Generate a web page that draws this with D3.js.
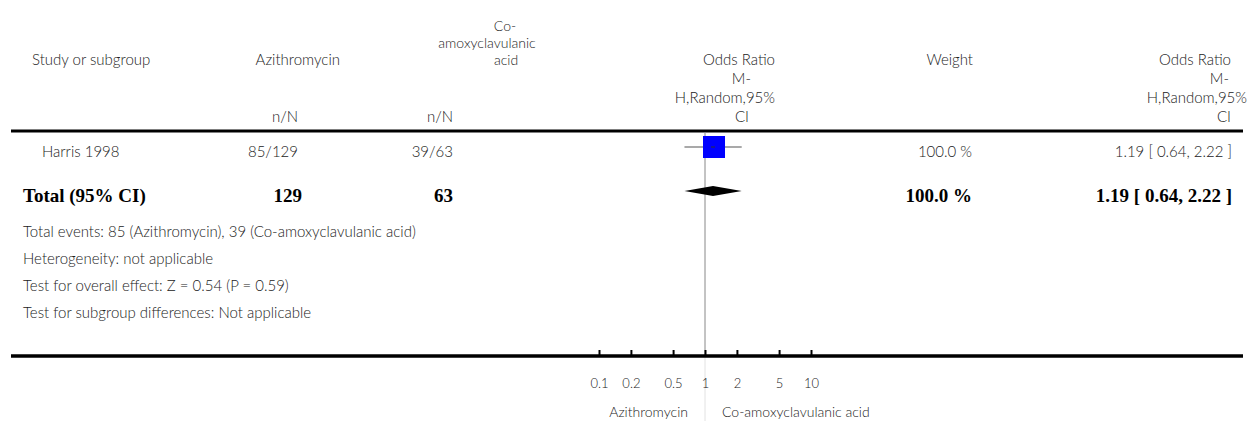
<!DOCTYPE html>
<html>
<head>
<meta charset="utf-8">
<script src="https://cdn.jsdelivr.net/npm/d3@7"></script>
<style>
  body { margin: 0; background: #fff; }
  text { font-family: Lato, "Open Sans", sans-serif; font-weight: 300; fill: #222; }
  .bold { font-family: "Liberation Serif", "DejaVu Serif", serif; font-weight: bold; fill: #000; }
</style>
</head>
<body>
<div id="chart-area"></div>
<script>
// data
var studies = ["Harris 1998"];
var eventsA = ["85/129"];
var eventsB = ["39/63"];
var weights = [100.0];
var ors = [1.19];
var lows = [0.64];
var highs = [2.22];

var totalA = 129, totalB = 63;
var totalOR = [1.19, 0.64, 2.22];
var totalWeight = "100.0 %";

var tickValues = [0.1, 0.2, 0.5, 1, 2, 5, 10];
var footer = [
    "Total events: 85 (Azithromycin), 39 (Co-amoxyclavulanic acid)",
    "Heterogeneity: not applicable",
    "Test for overall effect: Z = 0.54 (P = 0.59)",
    "Test for subgroup differences: Not applicable"
];
var leftLabel = "Azithromycin";
var rightLabel = "Co-amoxyclavulanic acid";

var svg = d3.select("#chart-area").append("svg")
    .attr("width", 1259)
    .attr("height", 421);

var x = d3.scaleLog()
    .domain([0.1, 10])
    .range([599, 811]);

var fmt = d3.format(".2f");
function orText(o, l, h) { return fmt(o) + " [ " + fmt(l) + ", " + fmt(h) + " ]"; }

function txt(s, px, py, anchor, size, cls) {
    return svg.append("text")
        .attr("x", px).attr("y", py)
        .attr("text-anchor", anchor || "start")
        .attr("font-size", size || 15)
        .attr("class", cls || null)
        .text(s);
}

// headers
txt("Study or subgroup", 32, 65);
txt("Azithromycin", 340, 65, "end");
txt("n/N", 298, 122, "end");
txt("Co-", 505, 31, "middle", 14);
txt("amoxyclavulanic", 487, 48, "middle", 14);
txt("acid", 506, 65, "middle", 14);
txt("n/N", 453, 122, "end");
txt("Odds Ratio", 775, 65, "end");
txt("M-", 751, 84, "end");
txt("H,Random,95%", 775, 103, "end");
txt("CI", 749, 122, "end");
txt("Weight", 973, 65, "end");
txt("Odds Ratio", 1231, 65, "end");
txt("M-", 1229, 84, "end");
txt("H,Random,95%", 1247, 103, "end");
txt("CI", 1231, 122, "end");

// header rule
svg.append("line")
    .attr("x1", 11).attr("x2", 1243)
    .attr("y1", 131).attr("y2", 131)
    .attr("stroke", "#000").attr("stroke-width", 3);

// line of no effect
svg.append("line")
    .attr("x1", x(1)).attr("x2", x(1))
    .attr("y1", 132).attr("y2", 356)
    .attr("stroke", "#888").attr("stroke-width", 1);
svg.append("line")
    .attr("x1", x(1)).attr("x2", x(1))
    .attr("y1", 357).attr("y2", 421)
    .attr("stroke", "#e2e2e2").attr("stroke-width", 1);

// study rows
var rowY = 147;
studies.forEach(function(s, i) {
    var y0 = rowY + i * 30;
    txt(s, 42, y0 + 10);
    txt(eventsA[i], 298, y0 + 10, "end");
    txt(eventsB[i], 453, y0 + 10, "end");
    txt(d3.format(".1f")(weights[i]) + " %", 972, y0 + 10, "end");
    txt(orText(ors[i], lows[i], highs[i]), 1232, y0 + 10, "end");

    svg.append("line")
        .attr("x1", x(lows[i])).attr("x2", x(highs[i]))
        .attr("y1", y0).attr("y2", y0)
        .attr("stroke", "#555").attr("stroke-width", 1.2);
    var size = 22 * Math.sqrt(weights[i] / 100);
    svg.append("rect")
        .attr("x", x(ors[i]) - size / 2 + 1)
        .attr("y", y0 - size / 2)
        .attr("width", size).attr("height", size)
        .attr("fill", "#0000ff");
    svg.append("line")
        .attr("x1", x(ors[i]) - 2).attr("x2", x(ors[i]) + 2)
        .attr("y1", y0).attr("y2", y0)
        .attr("stroke", "#333").attr("stroke-width", 1);
});

// total row
txt("Total (95% CI)", 23, 202, "start", 19, "bold");
txt(totalA, 302, 202, "end", 19, "bold");
txt(totalB, 453, 202, "end", 19, "bold");
txt(totalWeight, 972, 202, "end", 19, "bold");
txt(orText(totalOR[0], totalOR[1], totalOR[2]), 1232, 202, "end", 19, "bold");

var dy = 191;
svg.append("path")
    .attr("d", "M" + x(totalOR[1]) + "," + dy +
        "L" + x(totalOR[0]) + "," + (dy - 5) +
        "L" + x(totalOR[2]) + "," + dy +
        "L" + x(totalOR[0]) + "," + (dy + 5) + "Z")
    .attr("fill", "#000");

// footer
footer.forEach(function(f, i) {
    txt(f, 23, 237 + i * 27);
});

// axis
var axis = d3.axisBottom(x)
    .tickValues(tickValues)
    .tickFormat(d3.format("~g"))
    .tickSizeInner(-6)
    .tickSizeOuter(0)
    .tickPadding(23);

var g = svg.append("g")
    .attr("transform", "translate(0,356)")
    .call(axis);
g.select(".domain").remove();
g.selectAll(".tick line").attr("stroke", "#000").attr("stroke-width", 2);
g.selectAll(".tick text")
    .attr("font-family", "Lato, sans-serif")
    .attr("font-weight", 300)
    .attr("font-size", 13)
    .attr("fill", "#222");

svg.append("line")
    .attr("x1", 11).attr("x2", 1243)
    .attr("y1", 356).attr("y2", 356)
    .attr("stroke", "#000").attr("stroke-width", 3.5);

txt(leftLabel, x(1) - 17, 417, "end", 14);
txt(rightLabel, x(1) + 17, 417, "start", 14);
</script>
</body>
</html>
